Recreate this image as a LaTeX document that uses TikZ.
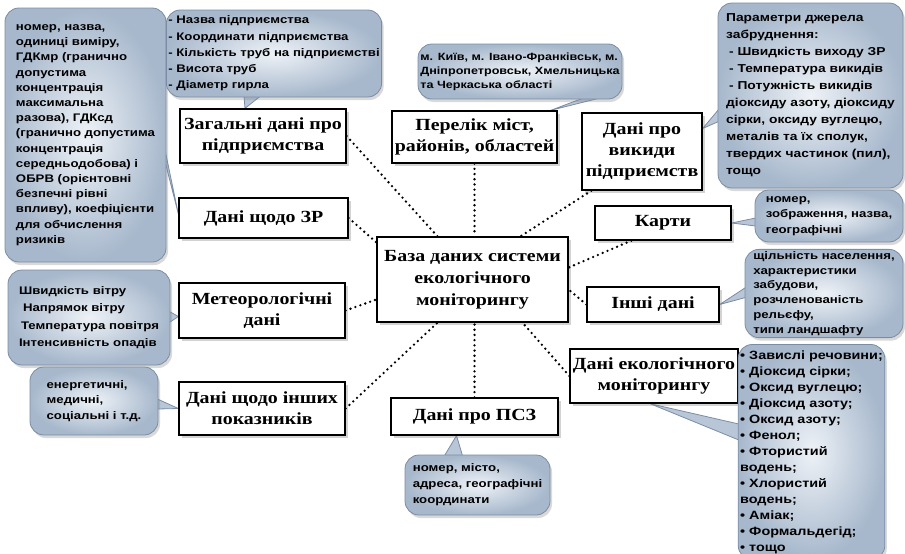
\documentclass[tikz,border=0pt]{standalone}
\usepackage{fontspec}
\setmainfont{Liberation Serif}[FakeStretch=1.17]
\newfontfamily\callfont{Liberation Sans}[FakeStretch=1.2]
\usetikzlibrary{shadows,backgrounds,calc}
\definecolor{callin}{HTML}{EEF2F7}
\definecolor{callout}{HTML}{A7B8CC}
\definecolor{callline}{HTML}{7B8DA4}
\tikzset{
  box/.style={draw=black, line width=1.3pt, fill=white, align=center, inner sep=1pt,
    font=\bfseries\fontsize{17}{21}\selectfont,
    drop shadow={shadow xshift=2.5pt, shadow yshift=-2.5pt, opacity=0.35, fill=gray}},
  bubble/.style={draw=callline, line width=0.8pt, rounded corners=14pt,
    inner color=callin, outer color=callout, align=left, inner sep=2pt,
    font=\callfont\bfseries\fontsize{11}{15}\selectfont,
    drop shadow={shadow xshift=2pt, shadow yshift=-3pt, opacity=0.3, fill=gray}},
  link/.style={line width=2.6pt, line cap=round, dash pattern=on 0pt off 5.2pt},
  tail/.style={fill=callout!75!callin, draw=callline, line width=0.8pt}
}
\begin{document}
\begin{tikzpicture}[x=1pt,y=-1pt]
		\useasboundingbox (0,0) rectangle (905,554);
		% boxes
		\node[box, minimum width=191, minimum height=85, font=\bfseries\fontsize{17}{22}\selectfont] (v1) at (472.5,279.5) {База даних системи\\ екологічного\\ моніторингу};
		\node[box, minimum width=166, minimum height=54] (v2) at (263,136) {Загальні дані про\\ підприємства};
		\node[box, minimum width=165, minimum height=52] (v3) at (474.5,137) {Перелік міст,\\ районів, областей};
		\node[box, minimum width=120, minimum height=77] (v4) at (642,151.5) {Дані про\\ викиди\\ підприємств};
		\node[box, minimum width=136, minimum height=34] (v5) at (663,223) {Карти};
		\node[box, minimum width=132, minimum height=35] (v6) at (653,304.5) {Інші дані};
		\node[box, minimum width=168, minimum height=54] (v7) at (654,376) {Дані екологічного\\ моніторингу};
		\node[box, minimum width=167, minimum height=37] (v8) at (474.5,416.5) {Дані про ПСЗ};
		\node[box, minimum width=169, minimum height=40] (v9) at (263.5,218) {Дані щодо ЗР};
		\node[box, minimum width=166, minimum height=55] (v10) at (262,310.5) {Метеорологічні\\ дані};
		\node[box, minimum width=166, minimum height=53] (v11) at (262,408.5) {Дані щодо інших\\ показників};
		% dotted links
		\draw[link] (v2.east) -- ($(v1.north)+(-35,0)$);
		\draw[link] (v3.south) -- (v3.south |- v1.north);
		\draw[link] ($(v4.south west)+(10,0)$) -- ($(v1.north)+(48,0)$);
		\draw[link] ($(v5.south west)+(37,0)$) -- ($(v1.east)+(0,-12)$);
		\draw[link] (v6.west) -- ($(v1.east)+(0,10)$);
		\draw[link] (v7.west) -- ($(v1.south)+(50,0)$);
		\draw[link] (v8.north) -- (v8.north |- v1.south);
		\draw[link] (v11.east) -- ($(v1.south)+(-35,0)$);
		\draw[link] (v10.east) -- ($(v1.west)+(0,20)$);
		\draw[link] (v9.east) -- ($(v1.north west)+(0,6)$);
		% callouts
		\node[bubble, minimum width=161, minimum height=254, font=\callfont\bfseries\fontsize{11}{15.2}\selectfont] (c1) at (85.5,135) {номер, назва,\\ одиниці виміру,\\ ГДКмр (гранично\\ допустима\\ концентрація\\ максимальна\\ разова), ГДКсд\\ (гранично допустима\\ концентрація\\ середньодобова) і\\ ОБРВ (орієнтовні\\ безпечні рівні\\ впливу), коефіцієнти\\ для обчислення\\ ризиків};
		\node[bubble, minimum width=204, minimum height=87, font=\callfont\bfseries\fontsize{11}{16.2}\selectfont] (c2) at (274,53.5) {- Назва підприємства\\ - Координати підприємства\\ - Кількість труб на підприємстві\\ - Висота труб\\ - Діаметр гирла};
		\node[bubble, minimum width=204, minimum height=55, font=\callfont\bfseries\fontsize{10.5}{14}\selectfont] (c3) at (520,71.5) {м. Київ, м. Івано-Франківськ, м.\\ Дніпропетровськ, Хмельницька\\ та Черкаська області};
		\node[bubble, minimum width=185, minimum height=185, font=\callfont\bfseries\fontsize{11.5}{17}\selectfont] (c4) at (810.5,95.5) {Параметри джерела\\ забруднення:\\ \hspace{3pt}- Швидкість виходу ЗР\\ \hspace{3pt}- Температура викидів\\ \hspace{3pt}- Потужність викидів\\ діоксиду азоту, діоксиду\\ сірки, оксиду вуглецю,\\ металів та їх сполук,\\ твердих частинок (пил),\\ тощо};
		\node[bubble, minimum width=148, minimum height=52, font=\callfont\bfseries\fontsize{11}{15.5}\selectfont] (c5) at (829,216) {номер,\\ зображення, назва,\\ географічні};
		\node[bubble, minimum width=158, minimum height=87, font=\callfont\bfseries\fontsize{11}{14.8}\selectfont] (c6) at (824,293.5) {щільність населення,\\ характеристики\\ забудови,\\ розчленованість\\ рельєфу,\\ типи ландшафту};
		\node[bubble, minimum width=137, minimum height=215, font=\callfont\bfseries\fontsize{12}{16}\selectfont] (c7) at (811.5,452) {• Завислі речовини;\\ • Діоксид сірки;\\ • Оксид вуглецю;\\ • Діоксид азоту;\\ • Оксид азоту;\\ • Фенол;\\ • Фтористий\\ водень;\\ • Хлористий\\ водень;\\ • Аміак;\\ • Формальдегід;\\ • тощо};
		\node[bubble, minimum width=162, minimum height=95, font=\callfont\bfseries\fontsize{11}{17.5}\selectfont] (c8) at (89,317.5) {Швидкість вітру\\ \hspace{4pt}Напрямок вітру\\ \hspace{2pt}Температура повітря\\ Інтенсивність опадів};
		\node[bubble, minimum width=128, minimum height=68, font=\callfont\bfseries\fontsize{11}{15.5}\selectfont] (c9) at (94,401) {енергетичні,\\ медичні,\\ соціальні і т.д.};
		\node[bubble, minimum width=145, minimum height=60, font=\callfont\bfseries\fontsize{11}{16}\selectfont] (c10) at (477.5,485) {номер, місто,\\ адреса, географічні\\ координати};
		% callout tails
		\begin{scope}[on background layer]
		\path[tail] ($(c1.east)+(-2,12)$) -- ($(v9.west)+(0,-4)$) -- ($(c1.east)+(-2,24)$) -- cycle;
		\path[tail] ($(c2.south)+(-30,-1)$) -- ($(v2.north)+(-18,0)$) -- ($(c2.south)+(-14,-1)$) -- cycle;
		\path[tail] ($(c3.south east)+(-40,-1)$) -- ($(v3.north east)+(-7,0)$) -- ($(c3.south east)+(-24,-1)$) -- cycle;
		\path[tail] ($(c4.west)+(1,14)$) -- ($(v4.east)+(0,-23)$) -- ($(c4.west)+(1,26)$) -- cycle;
		\path[tail] ($(c5.west)+(1,2)$) -- (v5.east) -- ($(c5.west)+(1,10)$) -- cycle;
		\path[tail] ($(c6.west)+(1,-6)$) -- (v6.east) -- ($(c6.west)+(1,4)$) -- cycle;
		\path[tail] ($(c7.west)+(1,-28)$) -- ($(v7.south)+(-4,0)$) -- ($(c7.west)+(1,-12)$) -- cycle;
		\path[tail] ($(c8.east)+(-1,-6)$) -- ($(v10.west)+(0,6)$) -- ($(c8.east)+(-1,5)$) -- cycle;
		\path[tail] ($(c9.east)+(-1,-2)$) -- (v11.west) -- ($(c9.east)+(-1,8)$) -- cycle;
		\path[tail] ($(c10.north)+(-33,1)$) -- ($(v8.south)+(-18,0)$) -- ($(c10.north)+(-15,1)$) -- cycle;
		\end{scope}
\end{tikzpicture}
\end{document}
